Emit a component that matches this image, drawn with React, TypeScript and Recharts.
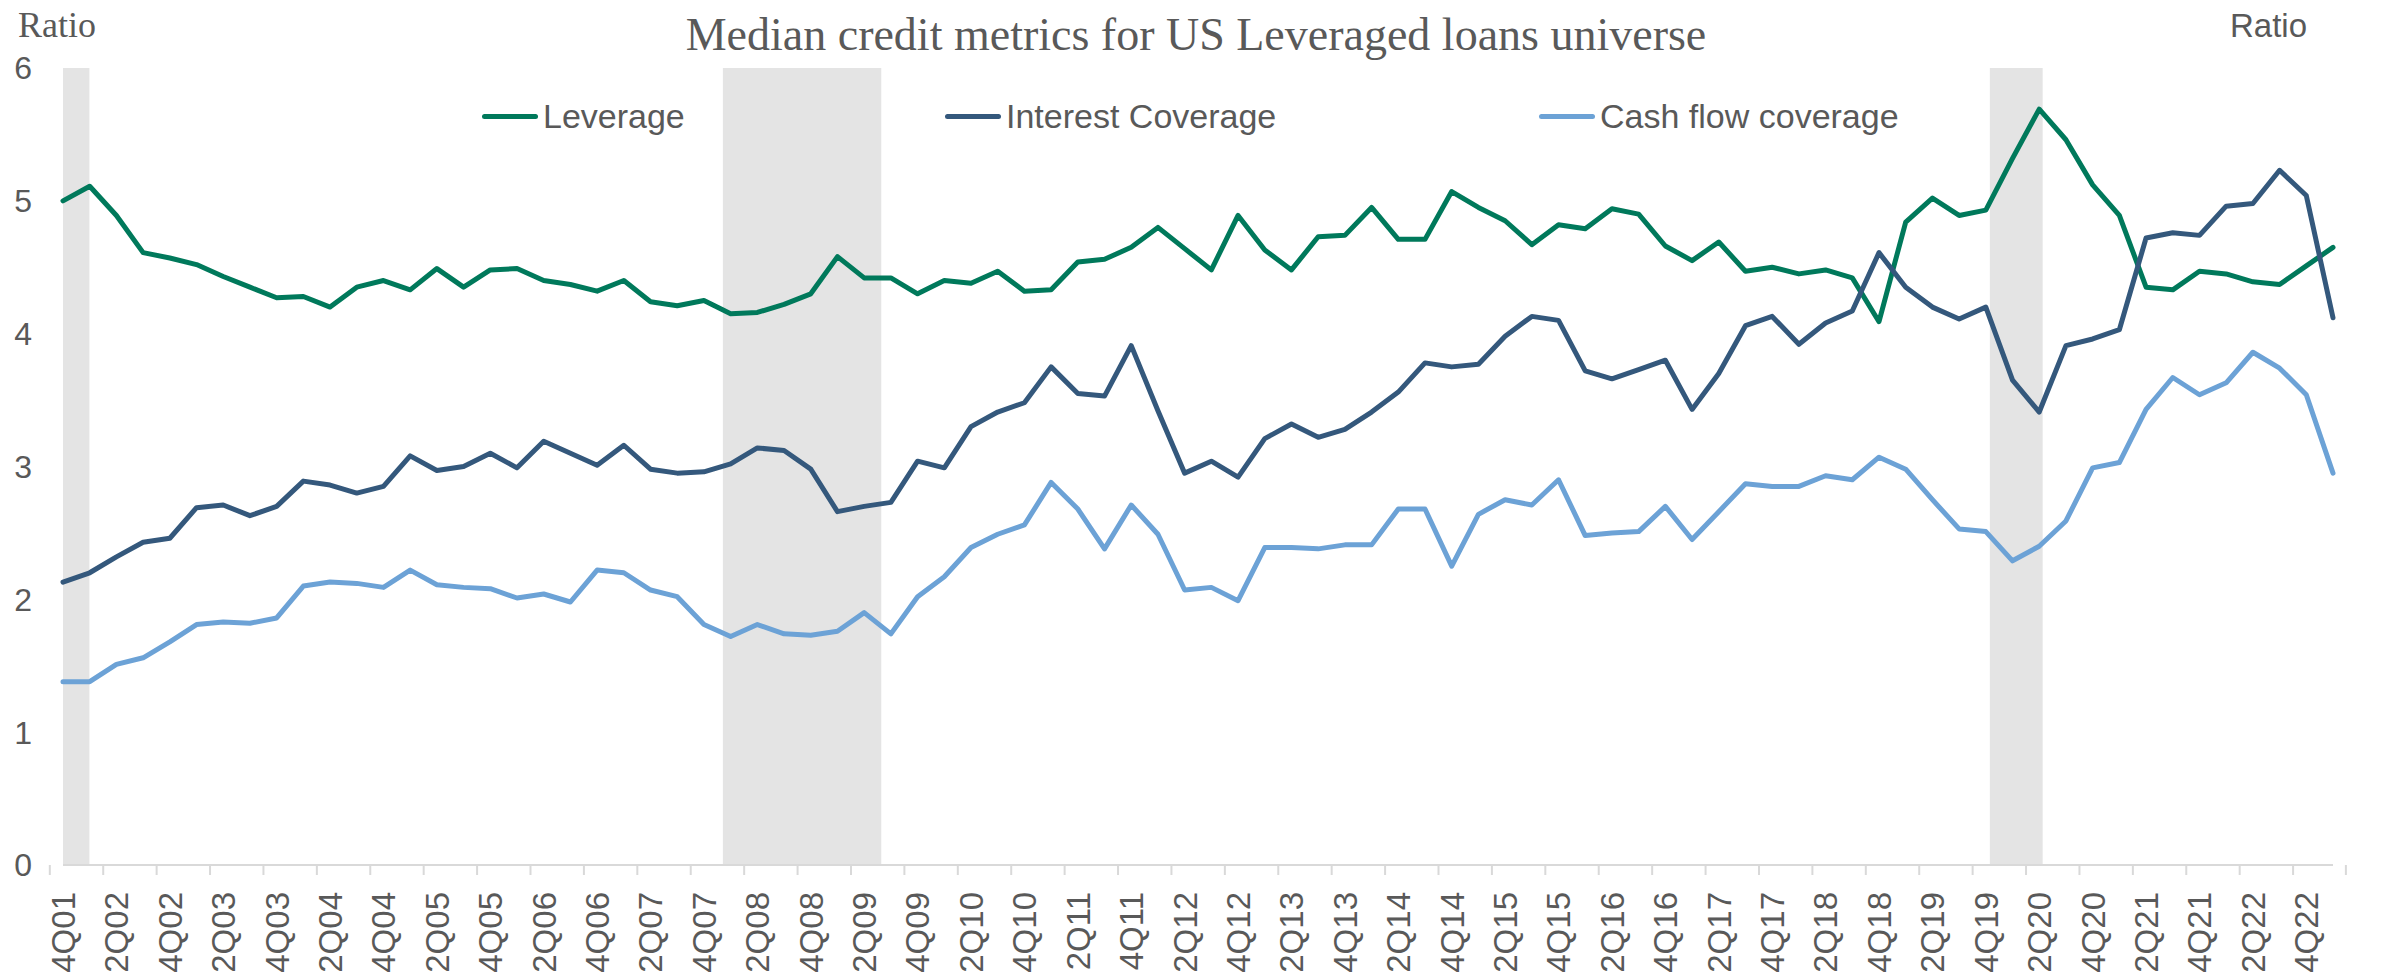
import React from "react";
import {
  ComposedChart,
  Line,
  XAxis,
  YAxis,
  ReferenceArea,
  Legend,
} from "recharts";

// Quarter labels, 4Q01 .. 1Q23
const quarters = [
  "4Q01",
  "1Q02", "2Q02", "3Q02", "4Q02",
  "1Q03", "2Q03", "3Q03", "4Q03",
  "1Q04", "2Q04", "3Q04", "4Q04",
  "1Q05", "2Q05", "3Q05", "4Q05",
  "1Q06", "2Q06", "3Q06", "4Q06",
  "1Q07", "2Q07", "3Q07", "4Q07",
  "1Q08", "2Q08", "3Q08", "4Q08",
  "1Q09", "2Q09", "3Q09", "4Q09",
  "1Q10", "2Q10", "3Q10", "4Q10",
  "1Q11", "2Q11", "3Q11", "4Q11",
  "1Q12", "2Q12", "3Q12", "4Q12",
  "1Q13", "2Q13", "3Q13", "4Q13",
  "1Q14", "2Q14", "3Q14", "4Q14",
  "1Q15", "2Q15", "3Q15", "4Q15",
  "1Q16", "2Q16", "3Q16", "4Q16",
  "1Q17", "2Q17", "3Q17", "4Q17",
  "1Q18", "2Q18", "3Q18", "4Q18",
  "1Q19", "2Q19", "3Q19", "4Q19",
  "1Q20", "2Q20", "3Q20", "4Q20",
  "1Q21", "2Q21", "3Q21", "4Q21",
  "1Q22", "2Q22", "3Q22", "4Q22",
  "1Q23",
];

const leverage = [
  5.0,
  5.11, 4.89, 4.61, 4.57,
  4.52, 4.43, 4.35, 4.27,
  4.28, 4.2, 4.35, 4.4,
  4.33, 4.49, 4.35, 4.48,
  4.49, 4.4, 4.37, 4.32,
  4.4, 4.24, 4.21, 4.25,
  4.15, 4.16, 4.22, 4.3,
  4.58, 4.42, 4.42, 4.3,
  4.4, 4.38, 4.47, 4.32,
  4.33, 4.54, 4.56, 4.65,
  4.8, 4.64, 4.48, 4.89,
  4.63, 4.48, 4.73, 4.74,
  4.95, 4.71, 4.71, 5.07,
  4.95, 4.85, 4.67, 4.82,
  4.79, 4.94, 4.9, 4.66,
  4.55, 4.69, 4.47, 4.5,
  4.45, 4.48, 4.42, 4.09,
  4.84, 5.02, 4.89, 4.93,
  5.32, 5.69, 5.46, 5.12,
  4.89, 4.35, 4.33, 4.47,
  4.45, 4.39, 4.37, 4.51,
  4.65,
];

const interestCoverage = [
  2.13,
  2.2, 2.32, 2.43, 2.46,
  2.69, 2.71, 2.63, 2.7,
  2.89, 2.86, 2.8, 2.85,
  3.08, 2.97, 3.0, 3.1,
  2.99, 3.19, 3.1, 3.01,
  3.16, 2.98, 2.95, 2.96,
  3.02, 3.14, 3.12, 2.98,
  2.66, 2.7, 2.73, 3.04,
  2.99, 3.3, 3.41, 3.48,
  3.75, 3.55, 3.53, 3.91,
  3.42, 2.95, 3.04, 2.92,
  3.21, 3.32, 3.22, 3.28,
  3.41, 3.56, 3.78, 3.75,
  3.77, 3.98, 4.13, 4.1,
  3.72, 3.66, 3.73, 3.8,
  3.43, 3.7, 4.06, 4.13,
  3.92, 4.08, 4.17, 4.61,
  4.35, 4.2, 4.11, 4.2,
  3.65, 3.41, 3.91, 3.96,
  4.03, 4.72, 4.76, 4.74,
  4.96, 4.98, 5.23, 5.04,
  4.12,
];

const cashFlowCoverage = [
  1.38,
  1.38, 1.51, 1.56, 1.68,
  1.81, 1.83, 1.82, 1.86,
  2.1, 2.13, 2.12, 2.09,
  2.22, 2.11, 2.09, 2.08,
  2.01, 2.04, 1.98, 2.22,
  2.2, 2.07, 2.02, 1.81,
  1.72, 1.81, 1.74, 1.73,
  1.76, 1.9, 1.74, 2.02,
  2.17, 2.39, 2.49, 2.56,
  2.88, 2.68, 2.38, 2.71,
  2.49, 2.07, 2.09, 1.99,
  2.39, 2.39, 2.38, 2.41,
  2.41, 2.68, 2.68, 2.25,
  2.64, 2.75, 2.71, 2.9,
  2.48, 2.5, 2.51, 2.7,
  2.45, 2.66, 2.87, 2.85,
  2.85, 2.93, 2.9, 3.07,
  2.98, 2.75, 2.53, 2.51,
  2.29, 2.4, 2.59, 2.99,
  3.03, 3.43, 3.67, 3.54,
  3.63, 3.86, 3.74, 3.54,
  2.95,
];

// shaded recession periods (first, last quarter)
const recessions = [
  ["4Q01", "4Q01"],
  ["1Q08", "2Q09"],
  ["1Q20", "2Q20"],
];

const yTicks = [0, 1, 2, 3, 4, 5, 6];

const series = [
  { key: "leverage", name: "Leverage", color: "#00795B" },
  { key: "interest", name: "Interest Coverage", color: "#34587C" },
  { key: "cash", name: "Cash flow coverage", color: "#6CA2D6" },
];

const legendLeft = [482, 945, 1539];

const W = 2386;
const H = 973;
const PLOT_LEFT = 63;
const PLOT_RIGHT = 2333;
const BAND = (PLOT_RIGHT - PLOT_LEFT) / quarters.length;
const TEXT = "#595959";
const AXIS = "#D9D9D9";
const SANS = "'Liberation Sans', Arial, sans-serif";
const SERIF = "'Liberation Serif', 'Times New Roman', serif";

const data = quarters.map((q, i) => ({
  q,
  pos: i,
  leverage: leverage[i],
  interest: interestCoverage[i],
  cash: cashFlowCoverage[i],
}));

function QuarterTick(props: any) {
  const { x, y, payload } = props;
  const half = BAND / 2;
  const isLast = payload.value === quarters[quarters.length - 2];
  return (
    <g>
      <line x1={x - half} x2={x - half} y1={y} y2={y + 10} stroke={AXIS} strokeWidth={2} />
      {isLast && (
        <line x1={x + 3 * half} x2={x + 3 * half} y1={y} y2={y + 10} stroke={AXIS} strokeWidth={2} />
      )}
      <text
        transform={`translate(${x},${y + 27}) rotate(-90)`}
        textAnchor="end"
        dy="0.36em"
        fontSize={33}
        fontFamily={SANS}
        fill={TEXT}
      >
        {payload.value}
      </text>
    </g>
  );
}

function LegendRow() {
  return (
    <div style={{ position: "relative", width: W, height: 40 }}>
      {series.map((s, i) => (
        <div
          key={s.key}
          style={{
            position: "absolute",
            left: legendLeft[i],
            top: 0,
            height: 40,
            display: "flex",
            alignItems: "center",
            whiteSpace: "nowrap",
          }}
        >
          <span
            style={{
              display: "inline-block",
              width: 56,
              height: 5,
              borderRadius: 3,
              background: s.color,
              marginRight: 5,
            }}
          />
          <span style={{ fontSize: 34, color: TEXT, fontFamily: SANS }}>{s.name}</span>
        </div>
      ))}
    </div>
  );
}

export default function App() {
  return (
    <div style={{ position: "absolute", left: 0, top: 0, width: W, height: H, background: "#fff" }}>
      <ComposedChart
        width={W}
        height={H}
        data={data}
        margin={{ top: 68, right: 0, bottom: 0, left: 0 }}
      >
        {/* hidden numeric axis: quarter i occupies [i, i + 1], so shading covers whole quarters */}
        <XAxis
          xAxisId="band"
          type="number"
          dataKey="pos"
          domain={[0, quarters.length]}
          allowDataOverflow
          hide
        />
        {recessions.map(([a, b]) => (
          <ReferenceArea
            key={a}
            xAxisId="band"
            yAxisId="left"
            x1={quarters.indexOf(a)}
            x2={quarters.indexOf(b) + 1}
            y1={0}
            y2={6}
            fill="#E4E4E4"
            fillOpacity={1}
            stroke="none"
            ifOverflow="visible"
          />
        ))}
        <XAxis
          dataKey="q"
          interval={1}
          height={108}
          tickSize={0}
          tickMargin={0}
          tickLine={false}
          axisLine={{ stroke: AXIS, strokeWidth: 2 }}
          tick={<QuarterTick />}
        />
        <YAxis
          yAxisId="left"
          width={63}
          domain={[0, 6]}
          ticks={yTicks}
          axisLine={false}
          tickLine={false}
          tickSize={0}
          tickMargin={31}
          tick={{ fontSize: 32, fill: TEXT, fontFamily: SANS }}
        />
        <YAxis
          yAxisId="right"
          orientation="right"
          width={53}
          domain={[0, 6]}
          ticks={yTicks}
          axisLine={false}
          tickLine={false}
          tickSize={0}
          tickMargin={29}
          tick={{ fontSize: 32, fill: TEXT, fontFamily: SANS, textAnchor: "start" }}
        />
        <Legend
          layout="vertical"
          align="center"
          verticalAlign="middle"
          wrapperStyle={{ top: 96, left: 0, width: W, height: 40 }}
          content={() => <LegendRow />}
        />
        {series.map((s) => (
          <Line
            key={s.key}
            yAxisId="left"
            type="linear"
            dataKey={s.key}
            name={s.name}
            stroke={s.color}
            strokeWidth={5}
            strokeLinejoin="round"
            strokeLinecap="round"
            dot={false}
            activeDot={false}
            isAnimationActive={false}
          />
        ))}
      </ComposedChart>
      <svg
        width={W}
        height={H}
        style={{ position: "absolute", left: 0, top: 0, pointerEvents: "none" }}
      >
        <text x={1196} y={50} textAnchor="middle" fontSize={46} fontFamily={SERIF} fill={TEXT}>
          Median credit metrics for US Leveraged loans universe
        </text>
        <text x={18} y={37} fontSize={36} fontFamily={SERIF} fill={TEXT}>
          Ratio
        </text>
        <text x={2230} y={37} fontSize={33} fontFamily={SANS} fill={TEXT}>
          Ratio
        </text>
      </svg>
    </div>
  );
}
